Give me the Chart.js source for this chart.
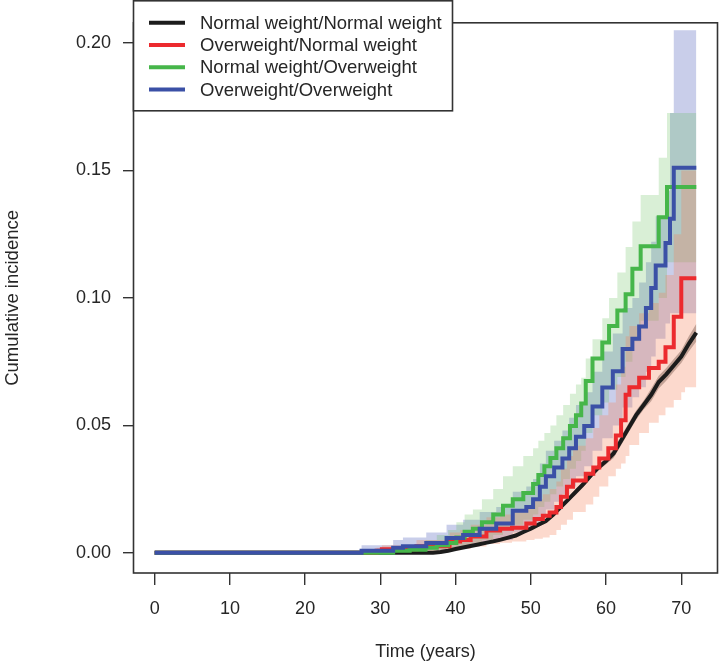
<!DOCTYPE html>
<html>
<head>
<meta charset="utf-8">
<title>Cumulative incidence</title>
<script src="https://cdn.jsdelivr.net/npm/chart.js@4.4.1/dist/chart.umd.min.js"></script>
<style>
  html, body { margin: 0; padding: 0; background: #fff; }
  canvas { display: block; }
</style>
</head>
<body>
<canvas id="cifChart" width="719" height="663"></canvas>
<script>
// series labels and colours, in legend order
const seriesLabels = ['Normal weight/Normal weight', 'Overweight/Normal weight', 'Normal weight/Overweight', 'Overweight/Overweight'];
const lineColors = ['#1c1c1c', '#ec2a2e', '#46b64a', '#3b50a6'];
const bandColors = ['rgba(90,60,50,0.35)', 'rgba(245,130,90,0.30)', 'rgba(80,180,70,0.22)', 'rgba(60,80,180,0.28)'];

// tick labels
const xTicks = [0, 10, 20, 30, 40, 50, 60, 70];
const yTicks = [0, 0.05, 0.10, 0.15, 0.20];

// Normal weight/Normal weight
const nnTime = [0, 37, 38, 39, 40, 41, 42, 43, 44, 45, 46, 47, 48, 49, 50, 51, 52, 53, 54, 55, 56, 57, 58, 59, 60, 61, 62, 63, 64, 65, 66, 67, 68, 69, 70, 71, 72];
const nnEst = [0, 0, 0.0003, 0.0008, 0.0015, 0.0021, 0.0027, 0.0033, 0.0039, 0.0045, 0.0052, 0.006, 0.0068, 0.0082, 0.0095, 0.011, 0.0125, 0.015, 0.018, 0.021, 0.024, 0.027, 0.0305, 0.0335, 0.036, 0.039, 0.044, 0.049, 0.054, 0.058, 0.062, 0.067, 0.070, 0.0735, 0.077, 0.082, 0.0864];
const nnLow = [0, 0, 0.0001, 0.0005, 0.0012, 0.0018, 0.0024, 0.003, 0.0036, 0.0042, 0.0047, 0.0055, 0.0063, 0.0077, 0.009, 0.0102, 0.0117, 0.0142, 0.0172, 0.0202, 0.0228, 0.0258, 0.0293, 0.0323, 0.0348, 0.0372, 0.0422, 0.0472, 0.0522, 0.0562, 0.0595, 0.0645, 0.0675, 0.071, 0.0745, 0.079, 0.0829];
const nnHigh = [0, 0, 0.0006, 0.0011, 0.0018, 0.0024, 0.003, 0.0036, 0.0042, 0.0048, 0.0057, 0.0065, 0.0073, 0.0087, 0.01, 0.0118, 0.0133, 0.0158, 0.0188, 0.0218, 0.0252, 0.0282, 0.0317, 0.0347, 0.0372, 0.0408, 0.0458, 0.0508, 0.0558, 0.0598, 0.0645, 0.0695, 0.0725, 0.076, 0.0795, 0.085, 0.0899];

// Overweight/Normal weight
const onTime = [0, 29.5, 30.2, 34.8, 39.2, 40.6, 42, 44.1, 45.9, 47.5, 49.4, 50.5, 51.6, 52.5, 53.4, 54, 54.8, 55.6, 57.3, 58.3, 59.1, 60.3, 61.3, 62, 62.6, 63.1, 64.4, 65.7, 67, 67.9, 69, 70, 70.5, 72];
const onEst = [0, 0, 0.0008, 0.0014, 0.0026, 0.0045, 0.005, 0.0064, 0.0088, 0.0095, 0.0098, 0.0115, 0.0133, 0.0146, 0.0158, 0.018, 0.022, 0.0259, 0.0284, 0.031, 0.0335, 0.037, 0.041, 0.046, 0.052, 0.062, 0.065, 0.0687, 0.0725, 0.075, 0.0806, 0.0926, 0.1077, 0.1077];
const onLow = [0, 0, 0, 0, 0.0005, 0.001, 0.0015, 0.0025, 0.0035, 0.004, 0.0045, 0.005, 0.0055, 0.006, 0.007, 0.009, 0.011, 0.013, 0.016, 0.019, 0.022, 0.026, 0.03, 0.033, 0.035, 0.038, 0.0423, 0.047, 0.051, 0.054, 0.057, 0.06, 0.063, 0.065];
const onHigh = [0, 0, 0.002, 0.003, 0.005, 0.008, 0.009, 0.011, 0.014, 0.015, 0.016, 0.018, 0.021, 0.023, 0.025, 0.028, 0.033, 0.038, 0.042, 0.045, 0.049, 0.054, 0.059, 0.066, 0.073, 0.085, 0.089, 0.094, 0.098, 0.102, 0.109, 0.125, 0.15, 0.15];

// Normal weight/Overweight
const noTime = [0, 31.7, 33.9, 36, 37.5, 39, 40.1, 41.2, 42.3, 43.5, 45, 46.3, 47.6, 49, 50.3, 51, 51.8, 52.6, 53.4, 54.3, 55.2, 56, 56.7, 57.3, 58.2, 59.5, 60.4, 61.5, 62.6, 63.5, 64.6, 67, 68.1, 69.3, 72];
const noEst = [0, 0, 0.0008, 0.0012, 0.002, 0.003, 0.0039, 0.006, 0.0083, 0.0095, 0.012, 0.015, 0.0185, 0.021, 0.0235, 0.027, 0.0305, 0.034, 0.0372, 0.041, 0.045, 0.0498, 0.054, 0.0586, 0.0674, 0.0762, 0.0825, 0.089, 0.0951, 0.1014, 0.1114, 0.1203, 0.1316, 0.1435, 0.1435];
const noLow = [0, 0, 0, 0, 0.0003, 0.0008, 0.0012, 0.002, 0.003, 0.004, 0.005, 0.007, 0.009, 0.011, 0.013, 0.015, 0.018, 0.02, 0.023, 0.026, 0.029, 0.033, 0.036, 0.04, 0.047, 0.054, 0.059, 0.064, 0.069, 0.075, 0.083, 0.091, 0.1, 0.114, 0.114];
const noHigh = [0, 0, 0.002, 0.003, 0.005, 0.007, 0.009, 0.012, 0.015, 0.017, 0.021, 0.025, 0.03, 0.034, 0.038, 0.041, 0.044, 0.047, 0.05, 0.054, 0.058, 0.0624, 0.066, 0.0687, 0.0762, 0.0838, 0.092, 0.1, 0.11, 0.12, 0.13, 0.1404, 0.155, 0.1725, 0.1725];

// Overweight/Overweight
const ooTime = [0, 27.5, 31.7, 33, 36.1, 38.8, 41, 43.2, 45.4, 47.6, 49.4, 50.3, 51.2, 52, 53.1, 54.2, 55.1, 56, 57.1, 58.2, 59.5, 60.9, 62.2, 63.5, 64.4, 65.3, 66, 66.6, 67.9, 68.5, 69, 70.1, 72];
const ooEst = [0, 0, 0.0008, 0.002, 0.0026, 0.0039, 0.0058, 0.007, 0.0095, 0.0115, 0.0165, 0.018, 0.021, 0.0259, 0.03, 0.0335, 0.037, 0.041, 0.0455, 0.0498, 0.0574, 0.0649, 0.0712, 0.08, 0.084, 0.0888, 0.096, 0.1039, 0.1127, 0.1215, 0.131, 0.151, 0.151];
const ooLow = [0, 0, 0, 0, 0.0005, 0.001, 0.002, 0.0025, 0.004, 0.005, 0.008, 0.009, 0.011, 0.014, 0.017, 0.02, 0.023, 0.026, 0.03, 0.034, 0.04, 0.045, 0.05, 0.057, 0.061, 0.065, 0.071, 0.077, 0.084, 0.09, 0.094, 0.094, 0.094];
const ooHigh = [0, 0.001, 0.003, 0.005, 0.006, 0.008, 0.011, 0.013, 0.016, 0.018, 0.024, 0.026, 0.029, 0.035, 0.04, 0.044, 0.048, 0.053, 0.058, 0.063, 0.071, 0.079, 0.086, 0.096, 0.1, 0.106, 0.114, 0.122, 0.132, 0.142, 0.1725, 0.205, 0.205];

const FONT = "'Liberation Sans', Arial, sans-serif";
const INK = '#262626';

const toPts = (t, v) => t.map((x, i) => ({ x: x, y: v[i] }));

const groups = [
  { time: nnTime, est: nnEst, low: nnLow, high: nnHigh, stepped: false },
  { time: onTime, est: onEst, low: onLow, high: onHigh, stepped: 'after' },
  { time: noTime, est: noEst, low: noLow, high: noHigh, stepped: 'after' },
  { time: ooTime, est: ooEst, low: ooLow, high: ooHigh, stepped: 'after' }
];

const datasets = [];
// confidence bands first (upper fills down to the lower one right after it)
groups.forEach((g, i) => {
  datasets.push({
    label: seriesLabels[i] + ' upper',
    data: toPts(g.time, g.high),
    stepped: g.stepped,
    borderWidth: 0,
    pointRadius: 0,
    backgroundColor: bandColors[i],
    fill: '+1',
    order: 10
  });
  datasets.push({
    label: seriesLabels[i] + ' lower',
    data: toPts(g.time, g.low),
    stepped: g.stepped,
    borderWidth: 0,
    pointRadius: 0,
    fill: false,
    order: 10
  });
});
// the estimates on top, blue drawn last
groups.forEach((g, i) => {
  datasets.push({
    label: seriesLabels[i],
    data: toPts(g.time, g.est),
    stepped: g.stepped,
    borderColor: lineColors[i],
    borderWidth: 4,
    borderCapStyle: 'butt',
    borderJoinStyle: 'miter',
    pointRadius: 0,
    fill: false,
    order: 3 - i
  });
});

// box round the plot and the legend
const boxAndLegend = {
  id: 'boxAndLegend',
  afterDraw(chart) {
    const { ctx, chartArea } = chart;
    ctx.save();
    ctx.strokeStyle = '#333';
    ctx.lineWidth = 1.6;
    ctx.strokeRect(chartArea.left + 0.5, chartArea.top, chartArea.right - chartArea.left - 1, chartArea.bottom - chartArea.top);

    // legend
    const lx = chartArea.left + 0.5, ly = 0.8, lw = 319, lh = 110;
    ctx.fillStyle = '#fff';
    ctx.fillRect(lx, ly, lw, lh);
    ctx.strokeRect(lx, ly, lw, lh);
    ctx.font = '18.5px ' + FONT;
    ctx.textBaseline = 'middle';
    seriesLabels.forEach((label, i) => {
      const y = 22.7 + i * 22.3;
      ctx.strokeStyle = lineColors[i];
      ctx.lineWidth = 4;
      ctx.beginPath();
      ctx.moveTo(149, y);
      ctx.lineTo(185, y);
      ctx.stroke();
      ctx.fillStyle = INK;
      ctx.fillText(label, 200, y + 1);
    });
    ctx.restore();
  }
};

new Chart(document.getElementById('cifChart'), {
  type: 'line',
  data: { datasets: datasets },
  options: {
    responsive: false,
    animation: false,
    events: [],
    layout: { padding: { top: 1, right: 1, left: 0, bottom: 0 } },
    plugins: {
      legend: { display: false },
      tooltip: { enabled: false },
      filler: { propagate: false }
    },
    scales: {
      x: {
        type: 'linear',
        min: -2.88,
        max: 74.88,
        afterBuildTicks: (scale) => { scale.ticks = xTicks.map(v => ({ value: v })); },
        afterFit: (scale) => { scale.height = 90; },
        ticks: {
          autoSkip: false,
          maxRotation: 0,
          padding: 13,
          color: INK,
          font: { family: FONT, size: 18 },
          callback: (v) => String(v)
        },
        grid: { drawOnChartArea: false, drawTicks: true, tickLength: 12, color: '#333', lineWidth: 1.4 },
        border: { display: false },
        title: { display: true, text: 'Time (years)', color: INK, font: { family: FONT, size: 18 }, padding: 0 }
      },
      y: {
        type: 'linear',
        min: -0.0079,
        max: 0.2079,
        afterBuildTicks: (scale) => { scale.ticks = yTicks.map(v => ({ value: v })); },
        afterFit: (scale) => { scale.width = 133; },
        ticks: {
          autoSkip: false,
          padding: 12,
          color: INK,
          font: { family: FONT, size: 18 },
          callback: (v) => Number(v).toFixed(2)
        },
        grid: { drawOnChartArea: false, drawTicks: true, tickLength: 10, color: '#333', lineWidth: 1.4 },
        border: { display: false },
        title: { display: true, text: 'Cumulative incidence', color: INK, font: { family: FONT, size: 18.5 }, padding: { top: 2 } }
      }
    }
  },
  plugins: [boxAndLegend]
});
</script>
</body>
</html>
